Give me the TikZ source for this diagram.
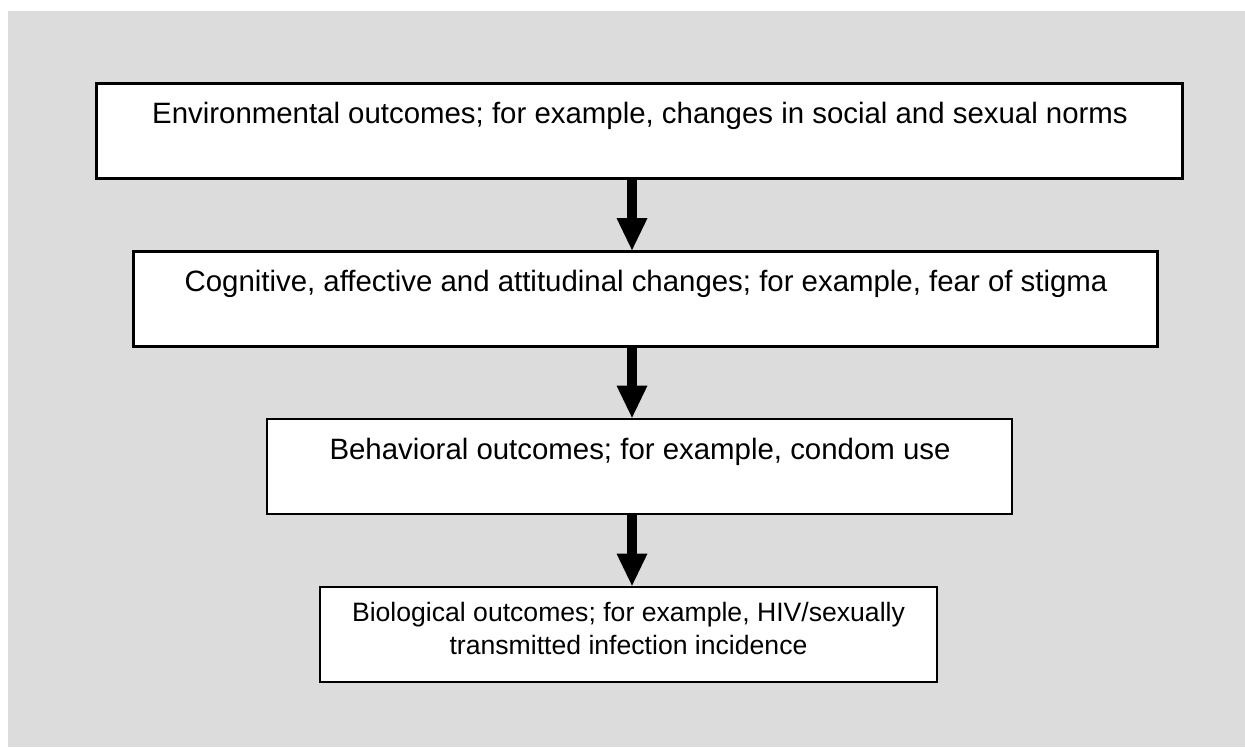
\documentclass[tikz,border=0pt]{standalone}
\usepackage{fontspec}
\setmainfont{Liberation Sans}
\usetikzlibrary{arrows.meta}
\definecolor{bggray}{HTML}{DCDCDC}
\tikzset{
  box/.style={draw=black, line width=2.8pt, fill=white, inner sep=0pt},
  lbl/.style={anchor=base, inner sep=0pt, font=\fontsize{29.4}{34}\selectfont, align=center},
  flow/.style={line width=10pt, -{Triangle[width=31pt,length=32pt,line width=0pt]}}
}
\begin{document}
\begin{tikzpicture}[x=1pt,y=-1pt]
\useasboundingbox (0,0) rectangle (1245,747);
\fill[bggray] (8,11) rectangle (1245,747);
\node[box, minimum width=1086pt, minimum height=95pt] (b1) at (639.5,131) {};
\node[box, minimum width=1024pt, minimum height=95pt] (b2) at (645.5,299) {};
\node[box, minimum width=745pt, minimum height=95pt] (b3) at (639.5,466.5) {};
\node[box, minimum width=617pt, minimum height=95pt] (b4) at (628.5,634.5) {};
\node[lbl] (t1) at (640,123) {Environmental outcomes; for example, changes in social and sexual norms};
\node[lbl] (t2) at (646,291) {Cognitive, affective and attitudinal changes; for example, fear of stigma};
\node[lbl] (t3) at (640,459) {Behavioral outcomes; for example, condom use};
\node[lbl, anchor=north, font=\fontsize{26.6}{33}\selectfont] (t4) at (628.5,602) {Biological outcomes; for example, HIV/sexually\\transmitted infection incidence};
\coordinate (ax) at (632,0);
\draw[flow] (b1.south -| ax) -- (b2.north -| ax);
\draw[flow] (b2.south -| ax) -- (b3.north -| ax);
\draw[flow] (b3.south -| ax) -- (b4.north -| ax);
\end{tikzpicture}
\end{document}
